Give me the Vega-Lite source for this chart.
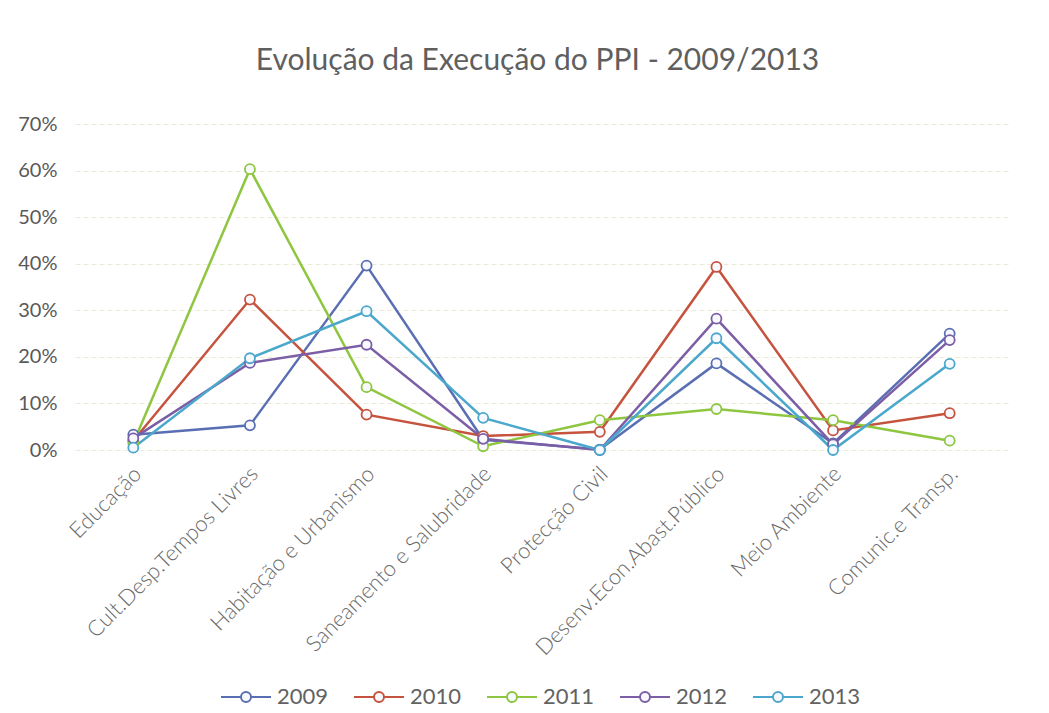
{
  "$schema": "https://vega.github.io/schema/vega-lite/v6.json",
  "autosize": {"type": "none"},
  "width": 933,
  "height": 326,
  "padding": {"left": 75, "top": 124, "right": 41, "bottom": 263},
  "background": "white",
  "title": {
    "text": "Evolução da Execução do PPI - 2009/2013",
    "font": "Lato",
    "fontSize": 30,
    "fontWeight": "normal",
    "color": "#5f5f5f",
    "offset": 38,
    "dx": -4
  },
  "config": {
    "view": {"stroke": null},
    "font": "Lato"
  },
  "data": {
    "values": [
      {"area": "Educação", "ano": "2009", "v": 0.033},
      {"area": "Cult.Desp.Tempos Livres", "ano": "2009", "v": 0.053},
      {"area": "Habitação e Urbanismo", "ano": "2009", "v": 0.396},
      {"area": "Saneamento e Salubridade", "ano": "2009", "v": 0.022},
      {"area": "Protecção Civil", "ano": "2009", "v": 0.001},
      {"area": "Desenv.Econ.Abast.Público", "ano": "2009", "v": 0.186},
      {"area": "Meio Ambiente", "ano": "2009", "v": 0.014},
      {"area": "Comunic.e Transp.", "ano": "2009", "v": 0.25},
      {"area": "Educação", "ano": "2010", "v": 0.02},
      {"area": "Cult.Desp.Tempos Livres", "ano": "2010", "v": 0.323},
      {"area": "Habitação e Urbanismo", "ano": "2010", "v": 0.076},
      {"area": "Saneamento e Salubridade", "ano": "2010", "v": 0.03},
      {"area": "Protecção Civil", "ano": "2010", "v": 0.039},
      {"area": "Desenv.Econ.Abast.Público", "ano": "2010", "v": 0.393},
      {"area": "Meio Ambiente", "ano": "2010", "v": 0.042},
      {"area": "Comunic.e Transp.", "ano": "2010", "v": 0.079},
      {"area": "Educação", "ano": "2011", "v": 0.015},
      {"area": "Cult.Desp.Tempos Livres", "ano": "2011", "v": 0.603},
      {"area": "Habitação e Urbanismo", "ano": "2011", "v": 0.135},
      {"area": "Saneamento e Salubridade", "ano": "2011", "v": 0.008},
      {"area": "Protecção Civil", "ano": "2011", "v": 0.064},
      {"area": "Desenv.Econ.Abast.Público", "ano": "2011", "v": 0.088},
      {"area": "Meio Ambiente", "ano": "2011", "v": 0.064},
      {"area": "Comunic.e Transp.", "ano": "2011", "v": 0.02},
      {"area": "Educação", "ano": "2012", "v": 0.025},
      {"area": "Cult.Desp.Tempos Livres", "ano": "2012", "v": 0.187},
      {"area": "Habitação e Urbanismo", "ano": "2012", "v": 0.226},
      {"area": "Saneamento e Salubridade", "ano": "2012", "v": 0.024},
      {"area": "Protecção Civil", "ano": "2012", "v": 0.0},
      {"area": "Desenv.Econ.Abast.Público", "ano": "2012", "v": 0.282},
      {"area": "Meio Ambiente", "ano": "2012", "v": 0.012},
      {"area": "Comunic.e Transp.", "ano": "2012", "v": 0.236},
      {"area": "Educação", "ano": "2013", "v": 0.005},
      {"area": "Cult.Desp.Tempos Livres", "ano": "2013", "v": 0.197},
      {"area": "Habitação e Urbanismo", "ano": "2013", "v": 0.298},
      {"area": "Saneamento e Salubridade", "ano": "2013", "v": 0.069},
      {"area": "Protecção Civil", "ano": "2013", "v": 0.0},
      {"area": "Desenv.Econ.Abast.Público", "ano": "2013", "v": 0.24},
      {"area": "Meio Ambiente", "ano": "2013", "v": 0.0},
      {"area": "Comunic.e Transp.", "ano": "2013", "v": 0.185}
    ]
  },
  "mark": {
    "type": "line",
    "strokeWidth": 2.5,
    "point": {"filled": false, "fill": "#f7f9ff", "size": 100, "strokeWidth": 1.8}
  },
  "encoding": {
    "x": {
      "field": "area",
      "type": "nominal",
      "sort": null,
      "scale": {"type": "point", "padding": 0.5},
      "axis": {
        "title": null,
        "labelAngle": -45,
        "labelAlign": "right",
        "labelBaseline": "middle",
        "labelFontSize": 22,
        "labelFontWeight": 300,
        "labelColor": "#6a6a6a",
        "labelPadding": 20,
        "labelOffset": 4,
        "labelLimit": 400,
        "ticks": false,
        "domain": false,
        "grid": false
      }
    },
    "y": {
      "field": "v",
      "type": "quantitative",
      "scale": {"domain": [0, 0.7]},
      "axis": {
        "title": null,
        "format": ".0%",
        "values": [0, 0.1, 0.2, 0.3, 0.4, 0.5, 0.6, 0.7],
        "labelFontSize": 20,
        "labelColor": "#595959",
        "labelPadding": 18,
        "ticks": false,
        "domain": false,
        "gridColor": "#ecebd6",
        "gridDash": [5, 3],
        "gridWidth": 1
      }
    },
    "color": {
      "field": "ano",
      "type": "nominal",
      "scale": {
        "domain": ["2009", "2010", "2011", "2012", "2013"],
        "range": ["#5a6fb3", "#c5533e", "#8ec640", "#7b5ea5", "#4ba8cc"]
      },
      "legend": {
        "title": null,
        "orient": "none",
        "direction": "horizontal",
        "legendX": 145,
        "legendY": 547,
        "symbolType": "M-1,0L-0.2,0M0.2,0L1,0M-0.2,0A0.2,0.2 0 1,1 0.2,0A0.2,0.2 0 1,1 -0.2,0",
        "symbolSize": 2500,
        "symbolStrokeWidth": 2,
        "symbolFillColor": "white",
        "labelFontSize": 22,
        "labelColor": "#626262",
        "labelOffset": 5,
        "columnPadding": 21
      }
    }
  }
}
